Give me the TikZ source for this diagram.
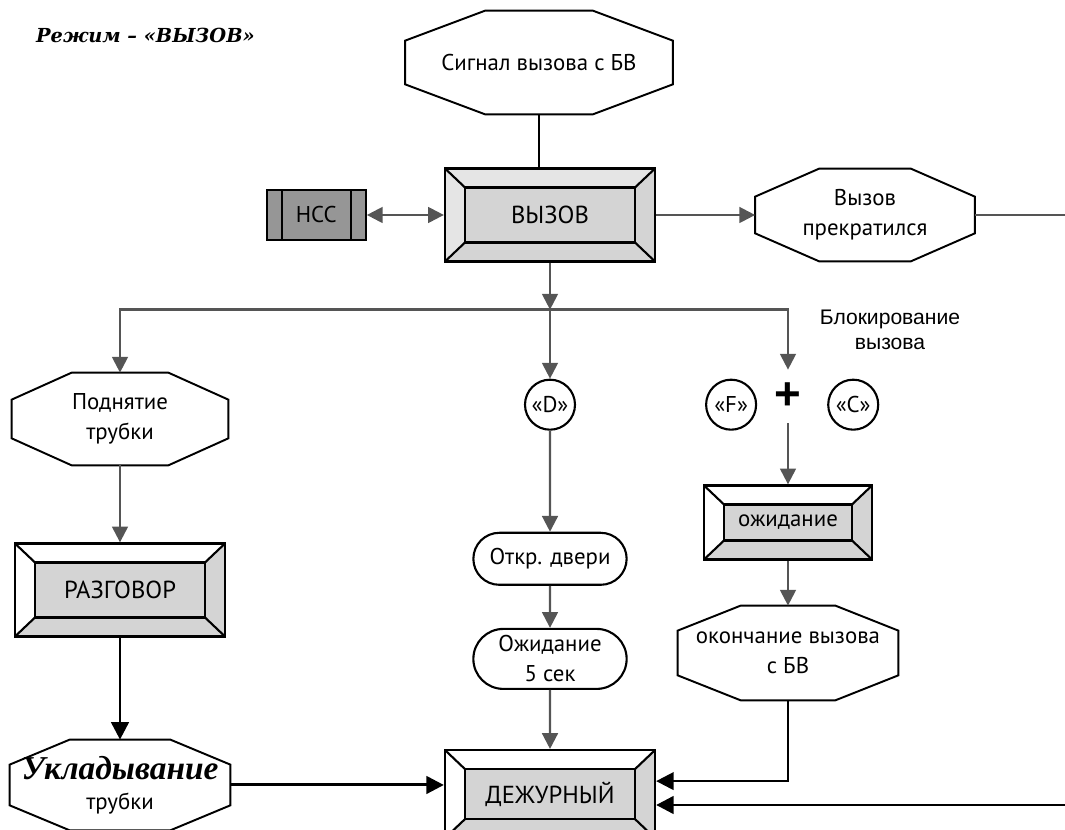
\documentclass[tikz,border=0pt]{standalone}
\usepackage{fontspec}
\setmainfont{PT Sans}
\newfontfamily\titlefont{DejaVu Serif}
\newfontfamily\handfont{Liberation Serif}
\newfontfamily\arialfont{Liberation Sans}
\usepackage{xcolor}
\usetikzlibrary{shapes.misc, arrows.meta, positioning, calc}

\definecolor{linegray}{RGB}{85,85,85}
\definecolor{nssgray}{RGB}{150,150,150}
\definecolor{bevelgray}{RGB}{212,212,212}

\begin{document}
\begin{tikzpicture}[
    font=\fontsize{13}{17}\selectfont,
    bevel/.style={rectangle, draw, line width=1.3pt, fill=white, align=center,
        minimum width=4.2cm, minimum height=1.86cm, font=\fontsize{14}{17}\selectfont,
        path picture={
            \coordinate (o1) at (path picture bounding box.north west);
            \coordinate (o2) at (path picture bounding box.north east);
            \coordinate (o3) at (path picture bounding box.south east);
            \coordinate (o4) at (path picture bounding box.south west);
            \coordinate (i1) at ([shift={(0.4cm,-0.38cm)}]o1);
            \coordinate (i2) at ([shift={(-0.4cm,-0.38cm)}]o2);
            \coordinate (i3) at ([shift={(-0.4cm,0.38cm)}]o3);
            \coordinate (i4) at ([shift={(0.4cm,0.38cm)}]o4);
            \fill[bevelgray] (o2) -- (o3) -- (o4) -- (i4) -- (i3) -- (i2) -- cycle;
            \draw[line width=1.2pt, fill=bevelgray] (i1) rectangle (i3);
            \draw[line width=1.2pt] (o1) -- (i1) (o2) -- (i2) (o3) -- (i3) (o4) -- (i4);
        }},
    nssbox/.style={rectangle, draw, line width=1.3pt, fill=nssgray,
        minimum width=1.98cm, minimum height=1cm, font=\fontsize{13}{15}\selectfont,
        path picture={
            \draw[line width=1.2pt]
                ([xshift=0.3cm]path picture bounding box.north west) -- ([xshift=0.3cm]path picture bounding box.south west)
                ([xshift=-0.3cm]path picture bounding box.north east) -- ([xshift=-0.3cm]path picture bounding box.south east);
        }},
    octa/.style={rectangle, align=center, minimum width=4.4cm, minimum height=1.88cm},
    oval/.style={rounded rectangle, draw, line width=1.2pt, align=center,
        minimum width=3.3cm, minimum height=1.04cm},
    letter/.style={circle, draw, line width=1.2pt, minimum size=1cm, inner sep=0pt},
    line/.style={-{Triangle[length=9pt,width=9pt]}, linegray, line width=1.3pt},
    twoway/.style={{Triangle[length=9pt,width=9pt]}-{Triangle[length=9pt,width=9pt]}, linegray, line width=1.3pt},
    heavy/.style={-{Triangle[length=10pt,width=10pt]}, black, line width=1.7pt}
]
\useasboundingbox (0,0) rectangle (21.3,16.6);

% Title
\node[font=\titlefont\bfseries\itshape\fontsize{11}{13}\selectfont, anchor=west] (title) at (0.6,15.9) {Режим – «ВЫЗОВ»};

% Nodes
\node[bevel, fill=bevelgray!60] (call) at (11.0,12.3) {ВЫЗОВ};
\node[octa, minimum width=5.34cm, minimum height=2.06cm, above=1.06cm of call, xshift=-0.22cm] (signal) {Сигнал вызова с БВ};
\node[nssbox, left=1.54cm of call] (nss) {НСС};
\node[octa, minimum width=4.38cm, minimum height=1.84cm, right=1.98cm of call] (stop) {Вызов\\прекратился};
\coordinate (exit) at (21.3,12.34);
\coordinate (back) at (21.3,0.5);
\coordinate[below=0.94cm of call] (split);

\node[octa, minimum width=4.32cm, minimum height=1.84cm] (lift) at (2.4,8.22) {Поднятие\\трубки};
\node[bevel, below=1.54cm of lift] (talk) {РАЗГОВОР};
\node[octa, minimum height=1.8cm, below=2.04cm of talk] (hang) {{\handfont\bfseries\itshape\fontsize{19}{21}\selectfont Укладывание}\\трубки};

\node[letter, below=1.38cm of split] (D) {«D»};
\node[oval, below=2.02cm of D] (door) {Откр. двери};
\node[oval, minimum height=1.2cm, below=0.84cm of door] (wait5) {Ожидание\\5 сек};
\node[bevel, minimum height=1.76cm, below=1.18cm of wait5] (duty) {ДЕЖУРНЫЙ};

\node[letter, right=2.58cm of D] (F) {«F»};
\node[font=\arialfont\bfseries\fontsize{26}{26}\selectfont, minimum height=1.06cm, inner sep=0pt] (plus) at (15.76,8.67) {+};
\node[letter, right=1.4cm of F] (C) {«C»};
\node[font=\arialfont\fontsize{12}{14}\selectfont, align=center] (block) at (17.8,10.0) {Блокирование\\вызова};
\node[bevel, minimum width=3.36cm, minimum height=1.48cm, font=\fontsize{13}{15}\selectfont, below=1.22cm of plus] (wait) {ожидание};
\node[octa, below=0.9cm of wait] (endcall) {окончание вызова\\с БВ};

% Octagon outlines
\foreach \n/\cx/\cy in {signal/1.6/0.6, stop/1.28/0.56, lift/1.2/0.54, hang/1.2/0.5, endcall/1.26/0.5}
    \draw[line width=1.1pt]
        ([xshift=\cx cm]\n.north west) -- ([xshift=-\cx cm]\n.north east)
        -- ([yshift=-\cy cm]\n.north east) -- ([yshift=\cy cm]\n.south east)
        -- ([xshift=-\cx cm]\n.south east) -- ([xshift=\cx cm]\n.south west)
        -- ([yshift=\cy cm]\n.south west) -- ([yshift=-\cy cm]\n.north west) -- cycle;

% Connections
\draw[black, line width=1.6pt] (signal.south) -- (signal.south |- call.north);
\draw[twoway] (nss) -- (call);
\draw[line] (call) -- (stop);
\draw[line, -] (stop) -- (stop -| exit);
\draw[line] (call) -- (split);
\draw[line] (split) -| (lift);
\draw[line] (split) -- (D);
\draw[line] (split) -| (plus);
\draw[line] (lift) -- (talk);
\draw[heavy] (talk) -- (hang);
\draw[heavy] (hang) -- (hang -| duty.west);
\draw[line] (D) -- (door);
\draw[line] (door) -- (wait5);
\draw[line] (wait5) -- (duty);
\draw[line] (plus) -- (wait);
\draw[line] (wait) -- (endcall);
\draw[heavy, line width=1.4pt] (endcall) |- ([yshift=0.26cm]duty.east);
\draw[heavy] (back) -- (back -| duty.east);

\end{tikzpicture}
\end{document}
